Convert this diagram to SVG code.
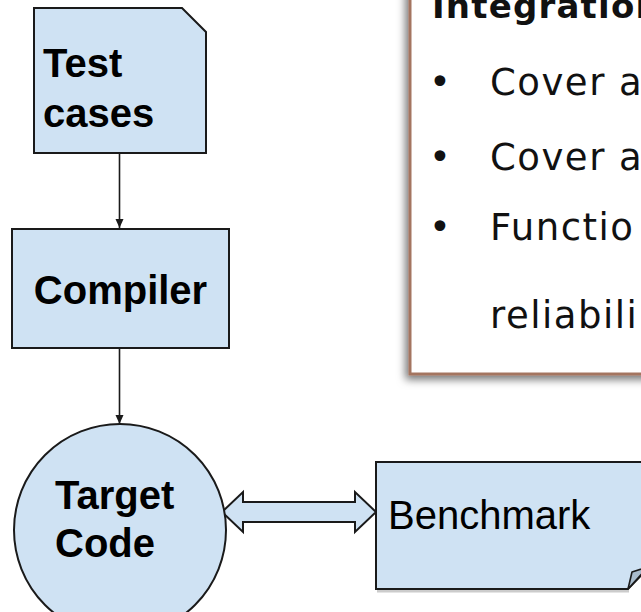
<svg xmlns="http://www.w3.org/2000/svg" width="641" height="612" viewBox="0 0 641 612">
<style>
.shape{fill:#cfe2f3;stroke:#1a1a1a;stroke-width:2}
.lbl{font-family:"Liberation Sans",Arial,sans-serif;font-size:40px;fill:#000}
.b{font-weight:bold}
.conn{stroke:#1a1a1a;stroke-width:1.6;fill:none}
.note{font-family:"DejaVu Sans","Noto Sans",sans-serif;font-size:37px;fill:#111;letter-spacing:1.5px}
</style>
<defs>
<marker id="ah" markerWidth="10" markerHeight="10" refX="9" refY="5" orient="auto" markerUnits="userSpaceOnUse">
<path d="M0,1 L9,5 L0,9 Z" fill="#1a1a1a"/>
</marker>
<filter id="sh" x="-10%" y="-10%" width="130%" height="130%">
<feDropShadow dx="-3" dy="4" stdDeviation="4" flood-color="#000" flood-opacity="0.55"/>
</filter>
</defs>

<g id="note-box">
<rect x="410" y="-20" width="260" height="394" fill="#fff" stroke="#a47460" stroke-width="3" filter="url(#sh)"/>
<text x="432" y="18" font-family="'DejaVu Sans','Noto Sans',sans-serif" font-weight="bold" font-size="34" letter-spacing="1.2" fill="#111">Integration</text>
<text class="note" x="429" y="95">•</text>
<text class="note" x="490" y="95">Cover a</text>
<text class="note" x="429" y="170">•</text>
<text class="note" x="490" y="170">Cover a</text>
<text class="note" x="429" y="240">•</text>
<text class="note" x="490" y="240">Functio</text>
<text class="note" x="490" y="328">reliabili</text>
</g>

<g id="connectors">
<line class="conn" x1="119.5" y1="153" x2="119.5" y2="228" marker-end="url(#ah)"/>
<line class="conn" x1="119.5" y1="348" x2="119.5" y2="424" marker-end="url(#ah)"/>
<polygon class="shape" stroke-width="1.6" points="222,512 243,492 243,502 355,502 355,492 376,512 355,532 355,522 243,522 243,532"/>
</g>

<g id="test-cases">
<path class="shape" d="M34,8 H182 L206,32 V153 H34 Z"/>
<text class="lbl b" x="43" y="77">Test</text>
<text class="lbl b" x="43" y="127">cases</text>
</g>

<g id="compiler">
<rect class="shape" x="12" y="229" width="217" height="119"/>
<text class="lbl b" x="120.5" y="304" text-anchor="middle" font-size="41">Compiler</text>
</g>

<g id="target-code">
<circle class="shape" cx="120" cy="530" r="106"/>
<text class="lbl b" x="55" y="509">Target</text>
<text class="lbl b" x="55" y="557">Code</text>
</g>

<g id="benchmark">
<path d="M377,591 H629" stroke="#ccc" stroke-width="3" fill="none"/>
<path class="shape" d="M376,462 H660 V556 L628,589 H376 Z"/>
<path d="M628,589 L632,572 L648,567 Z" fill="#a9bccd" stroke="#1a1a1a" stroke-width="1.6" stroke-linejoin="round"/>
<text class="lbl" x="388" y="529">Benchmark</text>
</g>
</svg>
